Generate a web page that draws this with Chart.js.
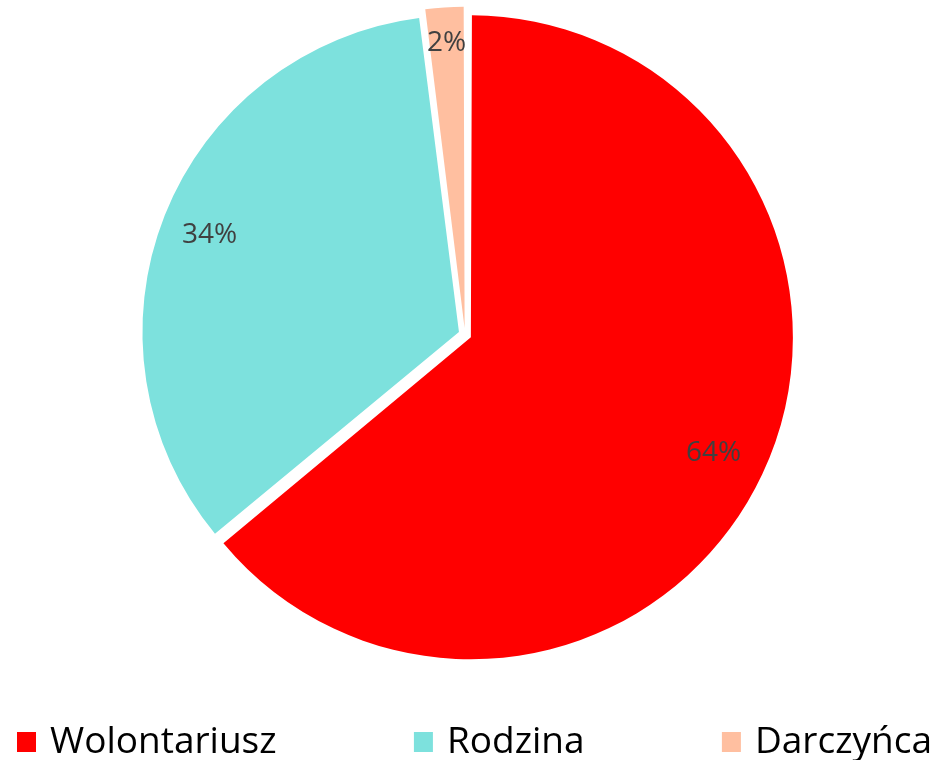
<!DOCTYPE html>
<html>
<head>
<meta charset="utf-8">
<script src="https://cdn.jsdelivr.net/npm/chart.js@4"></script>
<style>
  html, body { margin: 0; padding: 0; background: #fff; }
  #wrap { width: 938px; height: 760px; }
</style>
</head>
<body>
<div id="wrap"><canvas id="chart"></canvas></div>
<script>
// chart data
var categories = ["Wolontariusz", "Rodzina", "Darczyńca"];
var shares = [64, 34, 2];
var sliceColors = ["#ff0000", "#7de1dd", "#ffbfa0"];

var FONT = "'Open Sans', Lato, sans-serif";

// percent labels inside the slices
var sliceLabels = {
    id: "sliceLabels",
    afterDatasetsDraw: function(chart) {
        var ctx = chart.ctx;
        var meta = chart.getDatasetMeta(0);
        ctx.save();
        ctx.font = "28px " + FONT;
        ctx.fillStyle = "#404040";
        ctx.textAlign = "center";
        ctx.textBaseline = "middle";
        meta.data.forEach(function(arc, i) {
            var p = arc.getProps(["x", "y", "startAngle", "endAngle", "outerRadius"], true);
            var mid = (p.startAngle + p.endAngle) / 2;
            var shift = (arc.options.offset || 0) / 4;
            var k = shares[i] < 5 ? 0.91 : 0.85;
            var x = p.x + Math.cos(mid) * (p.outerRadius * k + shift);
            var y = p.y + Math.sin(mid) * (p.outerRadius * k + shift);
            ctx.fillText(shares[i] + "%", x, y + 2);
        });
        ctx.restore();
    }
};

// legend spread across the full width, like the office chart
var wideLegend = {
    id: "wideLegend",
    afterDraw: function(chart) {
        var ctx = chart.ctx;
        var box = 19, gap = 14, left = 17, right = chart.width - 6;
        var base = chart.height - 7;
        ctx.save();
        ctx.font = "37px " + FONT;
        var widths = categories.map(function(c) { return box + gap + ctx.measureText(c).width; });
        var total = widths.reduce(function(a, b) { return a + b; }, 0);
        var space = (right - left - total) / (categories.length - 1);
        var x = left;
        categories.forEach(function(c, i) {
            ctx.fillStyle = sliceColors[i];
            ctx.fillRect(x, base - 21, box, box + 1);
            ctx.fillStyle = "#000";
            ctx.textBaseline = "alphabetic";
            ctx.textAlign = "left";
            ctx.fillText(c, x + box + gap, base);
            x += widths[i] + space;
        });
        ctx.restore();
    }
};

var ctx = document.getElementById("chart").getContext("2d");
new Chart(ctx, {
    type: "pie",
    data: {
        labels: categories,
        datasets: [{
            data: shares,
            backgroundColor: sliceColors,
            borderWidth: 0,
            offset: 26
        }]
    },
    options: {
        responsive: true,
        maintainAspectRatio: false,
        animation: false,
        layout: { padding: { top: 6, left: 0, right: 8, bottom: 97 } },
        plugins: {
            tooltip: { enabled: false },
            legend: { display: false }
        }
    },
    plugins: [sliceLabels, wideLegend]
});
</script>
</body>
</html>
